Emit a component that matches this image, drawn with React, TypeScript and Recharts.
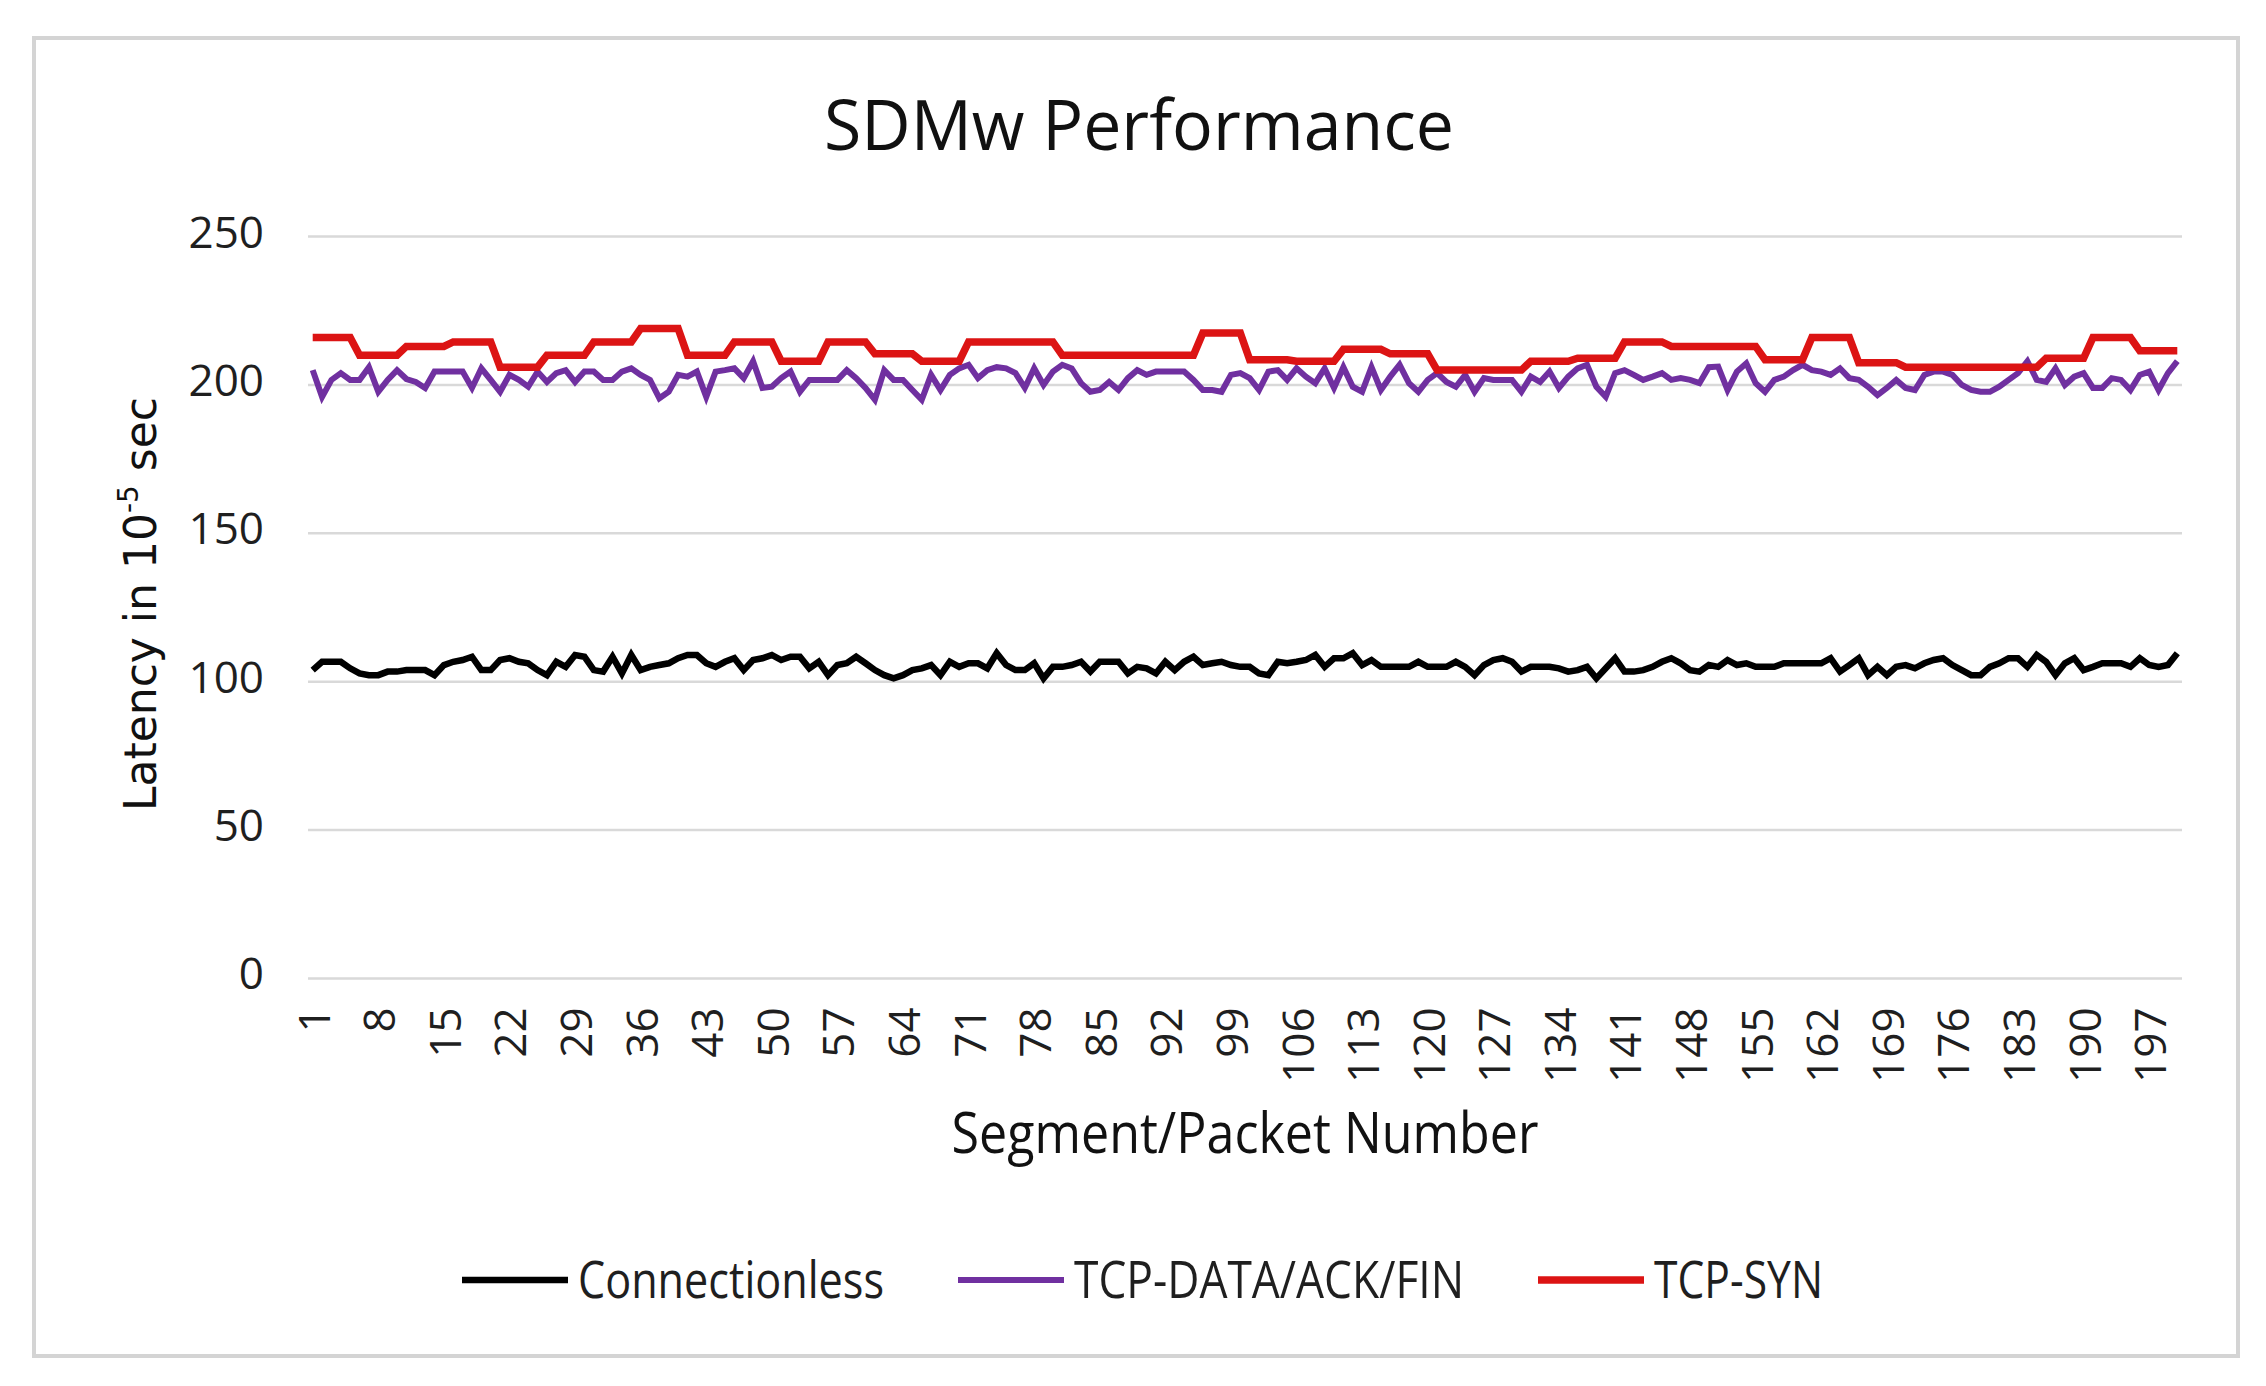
import React from "react";
import { LineChart, Line, XAxis, YAxis, CartesianGrid, Legend } from "recharts";

// packet numbers on the category axis
const PACKETS = Array.from({ length: 200 }, (_, i) => i + 1);

const CONNECTIONLESS = [
  103.9, 106.7, 106.7, 106.7, 104.5, 102.8, 102.2, 102.2, 103.4, 103.4,
  103.9, 103.9, 103.9, 102.2, 105.6, 106.7, 107.3, 108.4, 103.9, 103.9,
  107.3, 107.9, 106.7, 106.2, 103.9, 102.2, 106.7, 105.0, 109.0, 108.4,
  103.9, 103.4, 108.4, 102.8, 109.0, 103.9, 105.0, 105.6, 106.2, 107.9,
  109.0, 109.0, 106.2, 105.0, 106.7, 107.9, 103.9, 107.3, 107.9, 109.0,
  107.3, 108.4, 108.4, 104.5, 106.7, 102.2, 105.6, 106.2, 108.4, 106.2,
  103.9, 102.2, 101.1, 102.2, 103.9, 104.5, 105.6, 102.2, 106.7, 105.0,
  106.2, 106.2, 104.5, 109.6, 105.6, 103.9, 103.9, 106.2, 101.1, 105.0,
  105.0, 105.6, 106.7, 103.4, 106.7, 106.7, 106.7, 102.8, 105.0, 104.5,
  102.8, 106.7, 103.9, 106.7, 108.4, 105.6, 106.2, 106.7, 105.6, 105.0,
  105.0, 102.8, 102.2, 106.7, 106.2, 106.7, 107.3, 109.0, 105.0, 107.9,
  107.9, 109.6, 105.6, 107.3, 105.0, 105.0, 105.0, 105.0, 106.7, 105.0,
  105.0, 105.0, 106.7, 105.0, 102.2, 105.6, 107.3, 107.9, 106.7, 103.4,
  105.0, 105.0, 105.0, 104.5, 103.4, 103.9, 105.0, 101.1, 104.5, 107.9,
  103.4, 103.4, 103.9, 105.0, 106.7, 107.9, 106.2, 103.9, 103.4, 105.6,
  105.0, 107.3, 105.6, 106.2, 105.0, 105.0, 105.0, 106.2, 106.2, 106.2,
  106.2, 106.2, 107.9, 103.4, 105.6, 107.9, 102.2, 105.0, 102.2, 105.0,
  105.6, 104.5, 106.2, 107.3, 107.9, 105.6, 103.9, 102.2, 102.2, 105.0,
  106.2, 107.9, 107.9, 105.0, 109.0, 106.7, 102.2, 106.2, 107.9, 103.9,
  105.0, 106.2, 106.2, 106.2, 105.0, 107.9, 105.6, 105.0, 105.6, 109.6,
];

const TCP_DATA = [
  205.0, 196.0, 201.7, 204.0, 201.7, 201.7, 206.0, 197.7, 201.7, 205.0,
  202.0, 201.0, 199.0, 204.5, 204.5, 204.5, 204.5, 199.0, 205.6, 201.7,
  197.7, 203.4, 201.7, 199.4, 204.5, 201.0, 204.0, 205.0, 201.0, 204.5,
  204.5, 201.7, 201.7, 204.5, 205.6, 203.4, 201.7, 195.5, 197.7, 203.4,
  202.8, 204.5, 196.0, 204.5, 205.0, 205.6, 202.3, 208.0, 199.0, 199.4,
  202.3, 204.5, 197.7, 201.7, 201.7, 201.7, 201.7, 205.0, 202.3, 199.0,
  195.0, 205.0, 201.7, 201.7, 198.3, 195.0, 203.4, 198.3, 203.4, 205.6,
  206.8, 202.3, 205.0, 206.0, 205.6, 204.0, 199.0, 205.6, 200.0, 204.5,
  206.8, 205.6, 200.6, 197.7, 198.3, 201.0, 198.3, 202.3, 205.0, 203.4,
  204.5, 204.5, 204.5, 204.5, 201.7, 198.3, 198.3, 197.7, 203.4, 204.0,
  202.3, 198.3, 204.5, 205.0, 201.7, 205.6, 202.8, 200.6, 205.6, 199.0,
  206.0, 199.4, 197.7, 206.0, 198.3, 202.8, 206.8, 200.6, 197.7, 201.7,
  204.0, 201.0, 199.4, 203.4, 197.7, 202.3, 201.7, 201.7, 201.7, 197.7,
  202.8, 201.0, 204.5, 199.0, 202.8, 205.6, 206.8, 199.4, 196.0, 204.0,
  205.0, 203.4, 201.7, 202.8, 204.0, 201.7, 202.3, 201.7, 200.6, 206.0,
  206.2, 198.3, 204.5, 207.3, 200.6, 197.7, 201.7, 202.8, 205.0, 206.8,
  205.0, 204.5, 203.4, 205.6, 202.3, 201.7, 199.4, 196.6, 199.0, 201.7,
  199.0, 198.3, 203.4, 204.5, 204.5, 203.4, 200.0, 198.3, 197.7, 197.7,
  199.4, 201.7, 204.0, 208.0, 201.7, 201.0, 205.6, 200.0, 202.8, 204.0,
  199.0, 199.0, 202.3, 201.7, 198.3, 203.4, 204.5, 198.3, 204.0, 208.0,
];

const TCP_SYN = [
  216, 216, 216, 216, 216, 210, 210, 210, 210, 210,
  213, 213, 213, 213, 213, 214.5, 214.5, 214.5, 214.5, 214.5,
  206, 206, 206, 206, 206, 210, 210, 210, 210, 210,
  214.5, 214.5, 214.5, 214.5, 214.5, 219, 219, 219, 219, 219,
  210, 210, 210, 210, 210, 214.5, 214.5, 214.5, 214.5, 214.5,
  208, 208, 208, 208, 208, 214.5, 214.5, 214.5, 214.5, 214.5,
  210.5, 210.5, 210.5, 210.5, 210.5, 208, 208, 208, 208, 208,
  214.5, 214.5, 214.5, 214.5, 214.5, 214.5, 214.5, 214.5, 214.5, 214.5,
  210, 210, 210, 210, 210, 210, 210, 210, 210, 210,
  210, 210, 210, 210, 210, 217.5, 217.5, 217.5, 217.5, 217.5,
  208.5, 208.5, 208.5, 208.5, 208.5, 208, 208, 208, 208, 208,
  212, 212, 212, 212, 212, 210.5, 210.5, 210.5, 210.5, 210.5,
  205, 205, 205, 205, 205, 205, 205, 205, 205, 205,
  208, 208, 208, 208, 208, 209, 209, 209, 209, 209,
  214.5, 214.5, 214.5, 214.5, 214.5, 213, 213, 213, 213, 213,
  213, 213, 213, 213, 213, 208.5, 208.5, 208.5, 208.5, 208.5,
  216, 216, 216, 216, 216, 207.5, 207.5, 207.5, 207.5, 207.5,
  206, 206, 206, 206, 206, 206, 206, 206, 206, 206,
  206, 206, 206, 206, 206, 209, 209, 209, 209, 209,
  216, 216, 216, 216, 216, 211.5, 211.5, 211.5, 211.5, 211.5,
];

const Y_TICKS = [0, 50, 100, 150, 200, 250];

const SERIES = [
  { key: "connectionless", name: "Connectionless", color: "#000000", width: 6.5, labelWidth: 306 },
  { key: "tcpData", name: "TCP-DATA/ACK/FIN", color: "#7030a0", width: 6, labelWidth: 390 },
  { key: "tcpSyn", name: "TCP-SYN", color: "#dc1414", width: 7.5, labelWidth: 169 },
];

const data = PACKETS.map((n, i) => ({
  n,
  connectionless: CONNECTIONLESS[i],
  tcpData: TCP_DATA[i],
  tcpSyn: TCP_SYN[i],
}));

const FONT = "'Open Sans', 'Noto Sans', sans-serif";

// eslint-disable-next-line @typescript-eslint/no-explicit-any
function YTick({ x, y, payload }: any) {
  return (
    <text x={x - 44} y={y - 6} textAnchor="end" dominantBaseline="central"
      fontFamily={FONT} fontSize={44} fill="#1f1f1f">
      {payload.value}
    </text>
  );
}

// eslint-disable-next-line @typescript-eslint/no-explicit-any
function XTick({ x, y, payload }: any) {
  return (
    <g transform={`translate(${x},${y}) rotate(-90)`}>
      <text x={-29} y={0} textAnchor="end" dominantBaseline="central"
        fontFamily={FONT} fontSize={44} fill="#1f1f1f">
        {payload.value}
      </text>
    </g>
  );
}

// eslint-disable-next-line @typescript-eslint/no-explicit-any
function LegendContent({ payload }: any) {
  let cursor = 0;
  const items = (payload || []).map((entry: { dataKey: string; value: string; color: string }) => {
    const cfg = SERIES.find((s) => s.key === entry.dataKey) || SERIES[0];
    const x = cursor;
    cursor += 106 + 10 + cfg.labelWidth + 74;
    return (
      <g key={cfg.key}>
        <line x1={x} x2={x + 106} y1={35} y2={35} stroke={cfg.color} strokeWidth={cfg.width} />
        <text x={x + 116} y={53} fontFamily={FONT} fontSize={52} fill="#1f1f1f"
          textLength={cfg.labelWidth} lengthAdjust="spacingAndGlyphs">
          {cfg.name}
        </text>
      </g>
    );
  });
  return (
    <svg width={1400} height={70} style={{ overflow: "visible" }}>
      {items}
    </svg>
  );
}

export default function App() {
  return (
    <div style={{ position: "absolute", left: 0, top: 0, width: 2266, height: 1386, background: "#fff", overflow: "hidden" }}>
      <div style={{ position: "absolute", left: 32, top: 36, width: 2208, height: 1322, border: "4px solid #d4d4d4", boxSizing: "border-box" }} />
      <div style={{ position: "absolute", left: 0, top: 0 }}>
        <LineChart width={2266} height={1386} data={data}
          margin={{ top: 236.6, right: 84, bottom: 287.6, left: 208 }}>
          <CartesianGrid vertical={false} stroke="#d9d9d9" strokeWidth={2.5} />
          <XAxis dataKey="n" type="category" interval={6} height={120}
            axisLine={false} tickLine={false} tickSize={0} tickMargin={0}
            padding={{ left: 4.7, right: 4.7 }} tick={<XTick />} />
          <YAxis domain={[0, 250]} ticks={Y_TICKS} width={100}
            axisLine={false} tickLine={false} tickSize={0} tickMargin={0}
            tick={<YTick />} />
          <Legend layout="horizontal" verticalAlign="middle" align="center"
            wrapperStyle={{ top: 1245, left: 462, width: 1400, height: 70 }}
            content={<LegendContent />} />
          {SERIES.map((s) => (
            <Line key={s.key} type="linear" dataKey={s.key} name={s.name}
              stroke={s.color} strokeWidth={s.width} dot={false} activeDot={false}
              isAnimationActive={false} />
          ))}
          <text x={1139} y={150} textAnchor="middle" fontFamily={FONT} fontSize={70}
            fill="#111" textLength={630} lengthAdjust="spacingAndGlyphs">
            SDMw Performance
          </text>
          <text x={1245} y={1153} textAnchor="middle" fontFamily={FONT} fontSize={56}
            fill="#111" textLength={587} lengthAdjust="spacingAndGlyphs">
            Segment/Packet Number
          </text>
          <text transform="translate(156,604) rotate(-90)" textAnchor="middle"
            fontFamily="'DejaVu Sans', sans-serif" fontSize={44} fill="#111">
            Latency in 10<tspan fontSize={28} dy={-18}>-5</tspan>
            <tspan dy={18}> sec</tspan>
          </text>
        </LineChart>
      </div>
    </div>
  );
}
